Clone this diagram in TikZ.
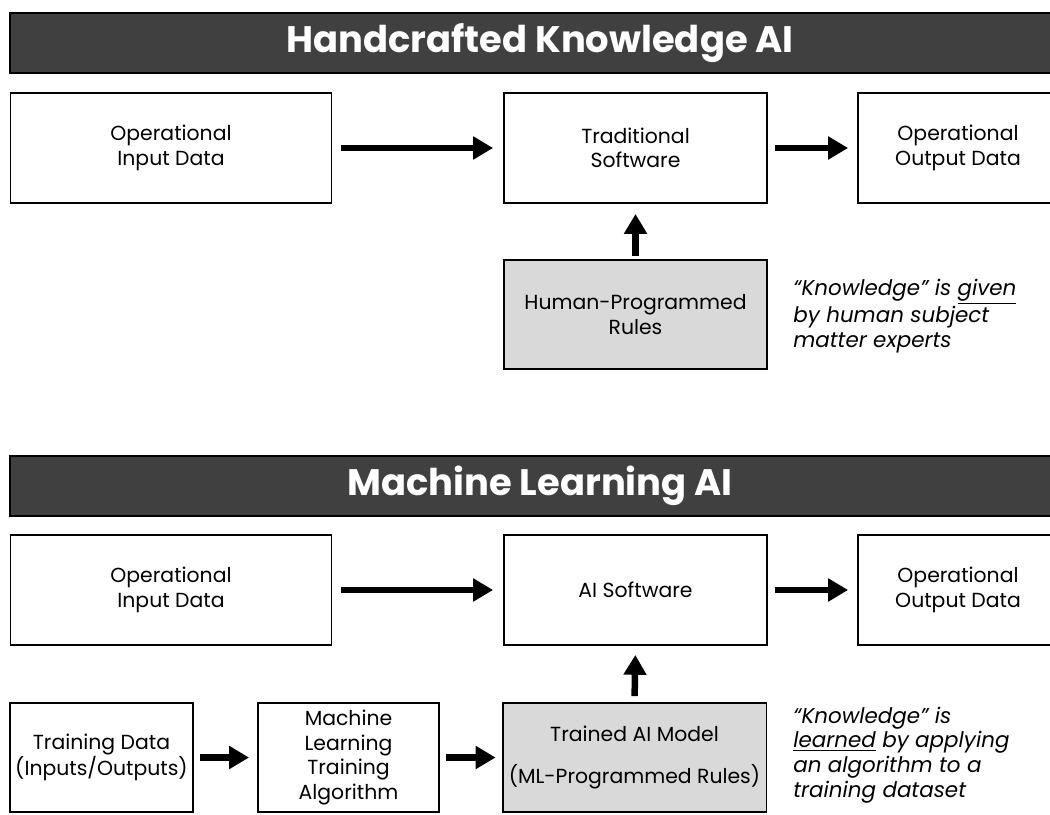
\documentclass[tikz,border=0pt]{standalone}
\usepackage{fontspec}
\setmainfont{Poppins}
\usepackage{xcolor}
\usepackage{tikz}
\usetikzlibrary{arrows.meta}
\definecolor{bannergray}{HTML}{404040}
\definecolor{rulegray}{HTML}{D9D9D9}

\begin{document}
\begin{tikzpicture}[x=0.02cm, y=-0.02cm,
	box/.style={rectangle, draw, line width=1.1pt, align=center, inner sep=0pt, font=\fontsize{11.6}{14}\selectfont},
	graybox/.style={box, fill=rulegray},
	banner/.style={rectangle, draw, fill=bannergray, text=white, line width=1.1pt, minimum width=21.2cm, minimum height=1.2cm, font=\fontsize{21}{24}\selectfont\bfseries},
	flow/.style={line width=3.7pt, -{Triangle[length=11.3pt,width=12.5pt]}},
	note/.style={anchor=west, align=left, inner sep=0pt, font=\fontsize{12.2}{13.8}\selectfont\itshape}]
			\clip (0,0) rectangle (1050,814);
			\node[banner] at (540,43) (hkTitle){Handcrafted Knowledge AI};
			\node[box, minimum width=6.42cm, minimum height=2.2cm] at (171,148) (in1){Operational\\Input Data};
			\node[box, minimum width=5.26cm, minimum height=2.2cm] at (635.5,148) (sw1){Traditional\\Software};
			\node[box, minimum width=4cm, minimum height=2.2cm] at (958,148) (out1){Operational\\Output Data};
			\node[graybox, minimum width=5.26cm, minimum height=2.18cm] at (635.5,314.5) (rules1){Human-Programmed\\Rules};
			\node[note] at (793,316) (note1){“Knowledge” is \underline{given}\\by human subject\\matter experts};
			\draw[flow, shorten <=0.18cm, shorten >=0.2cm] (in1.east) -- (sw1.west);
			\draw[flow, shorten <=0.14cm, shorten >=0.18cm] (sw1.east) -- (out1.west);
			\draw[flow, shorten <=0.06cm, shorten >=0.2cm] (rules1.north) -- (sw1.south);
			\node[banner] at (540,486) (mlTitle){Machine Learning AI};
			\node[box, minimum width=6.42cm, minimum height=2.2cm] at (171,590) (in2){Operational\\Input Data};
			\node[box, minimum width=5.26cm, minimum height=2.2cm] at (635.5,590) (sw2){AI Software};
			\node[box, minimum width=4cm, minimum height=2.2cm] at (958,590) (out2){Operational\\Output Data};
			\node[box, minimum width=3.66cm, minimum height=2.18cm] at (101.5,757.5) (train){Training Data\\(Inputs/Outputs)};
			\node[box, minimum width=3.62cm, minimum height=2.18cm] at (348.5,757.5) (algo){Machine\\Learning\\Training\\Algorithm};
			\node[graybox, minimum width=5.28cm, minimum height=2.18cm] at (634.5,757.5) (model){Trained AI Model\\[10pt](ML-Programmed Rules)};
			\node[note, font=\fontsize{12.2}{14}\selectfont\itshape] at (793,755) (note2){“Knowledge” is\\\underline{learned} by applying\\an algorithm to a\\training dataset};
			\draw[flow, shorten <=0.18cm, shorten >=0.2cm] (in2.east) -- (sw2.west);
			\draw[flow, shorten <=0.14cm, shorten >=0.18cm] (sw2.east) -- (out2.west);
			\draw[flow, shorten <=0.12cm, shorten >=0.18cm] (model.north) -- (sw2.south);
			\draw[flow, shorten <=0.12cm, shorten >=0.16cm] (train.east) -- (algo.west);
			\draw[flow, shorten <=0.12cm, shorten >=0.12cm] (algo.east) -- (model.west);
		\end{tikzpicture}
\end{document}
